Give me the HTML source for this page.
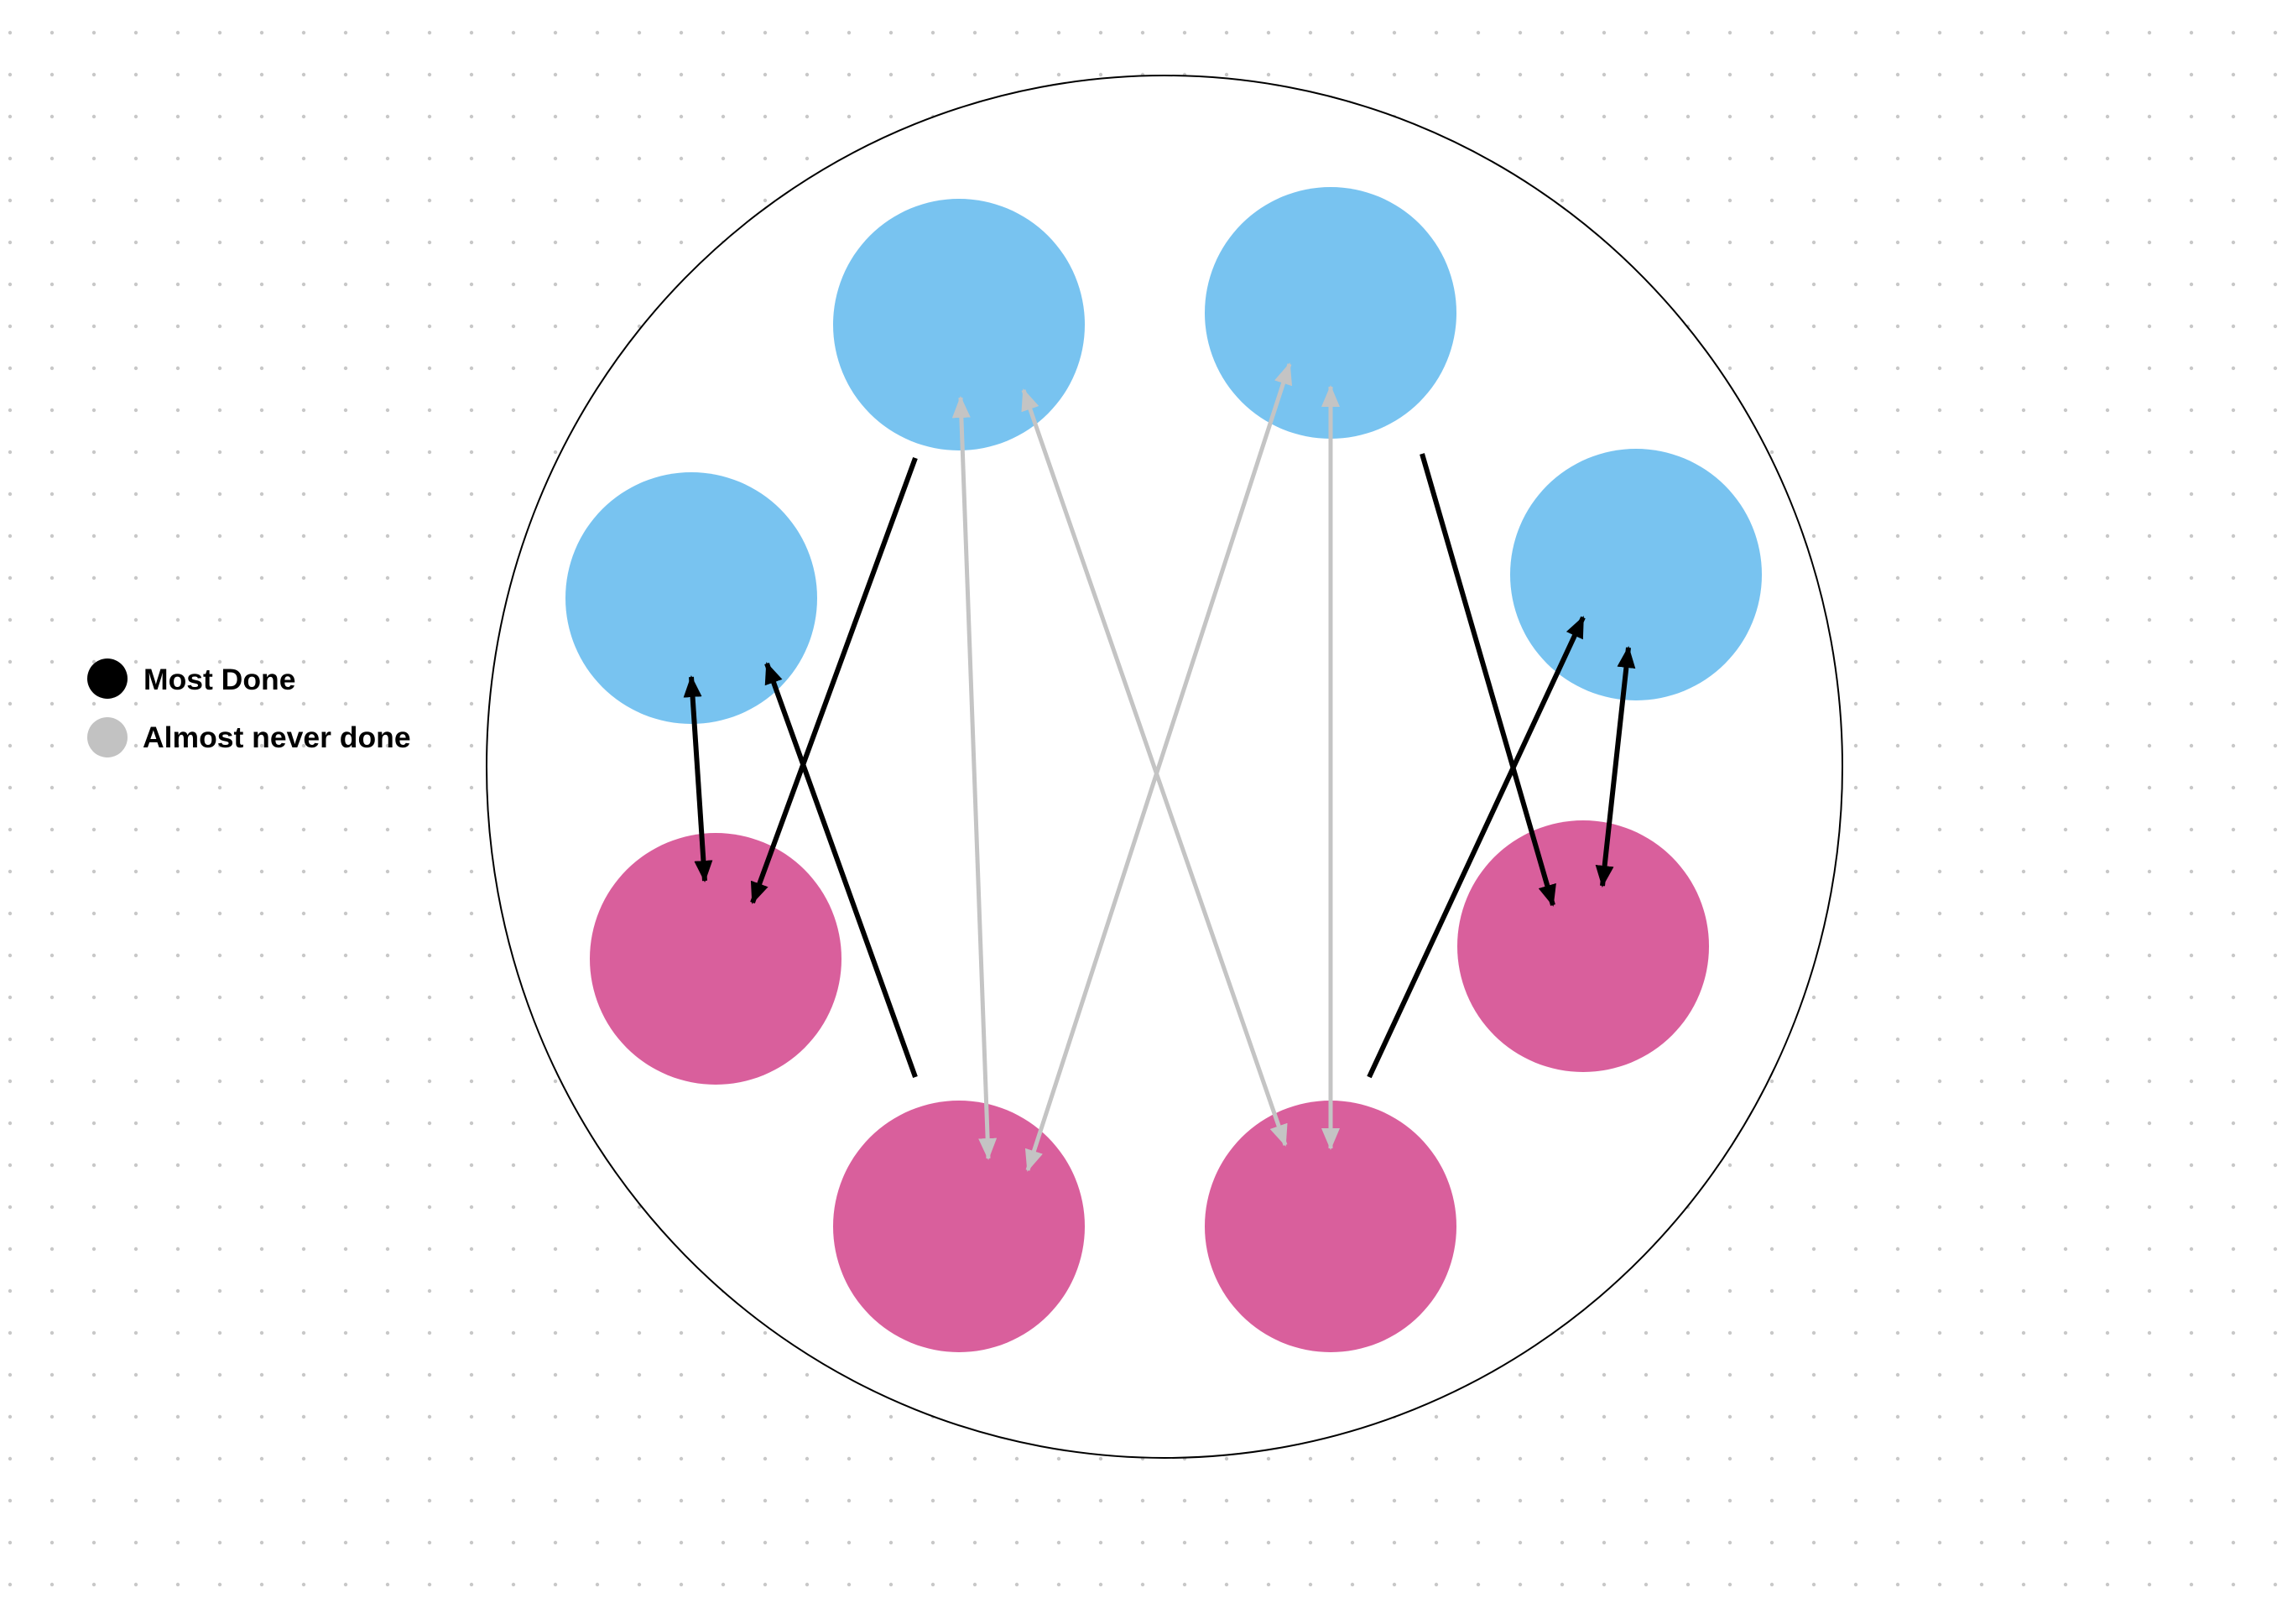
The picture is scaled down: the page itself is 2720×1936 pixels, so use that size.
<!DOCTYPE html>
<html><head><meta charset="utf-8"><style>
html,body{margin:0;padding:0;background:#fff;}
svg{display:block;}
</style></head><body>
<svg width="2720" height="1936" viewBox="0 0 2720 1936" xmlns="http://www.w3.org/2000/svg">
<defs>
<pattern id="dots" x="12" y="39" width="50" height="50" patternUnits="userSpaceOnUse">
<circle cx="0" cy="0" r="2.2" fill="#c8c8c8"/>
<circle cx="50" cy="0" r="2.2" fill="#c8c8c8"/>
<circle cx="0" cy="50" r="2.2" fill="#c8c8c8"/>
<circle cx="50" cy="50" r="2.2" fill="#c8c8c8"/>
</pattern>
<marker id="ab" markerWidth="26" markerHeight="22" refX="24" refY="11" orient="auto-start-reverse" markerUnits="userSpaceOnUse">
<path d="M0,0 L26,11 L0,22 z" fill="#000"/>
</marker>
<marker id="ag" markerWidth="26" markerHeight="22" refX="24" refY="11" orient="auto-start-reverse" markerUnits="userSpaceOnUse">
<path d="M0,0 L26,11 L0,22 z" fill="#c4c4c4"/>
</marker>
</defs>
<rect width="2720" height="1936" fill="url(#dots)"/>
<ellipse cx="1388" cy="914" rx="808" ry="824" fill="#fff" stroke="#000" stroke-width="2"/>
<g fill="#78C3F0">
<circle cx="1143" cy="387" r="150"/>
<circle cx="1586" cy="373" r="150"/>
<circle cx="824" cy="713" r="150"/>
<circle cx="1950" cy="685" r="150"/>
</g>
<g fill="#D95F9C">
<circle cx="853" cy="1143" r="150"/>
<circle cx="1887" cy="1128" r="150"/>
<circle cx="1143" cy="1462" r="150"/>
<circle cx="1586" cy="1462" r="150"/>
</g>
<g stroke="#c4c4c4" stroke-width="5" fill="none">
<line x1="1145" y1="474" x2="1178" y2="1381" marker-start="url(#ag)" marker-end="url(#ag)"/>
<line x1="1220" y1="465" x2="1532" y2="1365" marker-start="url(#ag)" marker-end="url(#ag)"/>
<line x1="1537" y1="434" x2="1225" y2="1395" marker-start="url(#ag)" marker-end="url(#ag)"/>
<line x1="1586" y1="461" x2="1586" y2="1369" marker-start="url(#ag)" marker-end="url(#ag)"/>
</g>
<g stroke="#000" stroke-width="6" fill="none">
<line x1="824" y1="807" x2="840" y2="1050" marker-start="url(#ab)" marker-end="url(#ab)"/>
<line x1="1091" y1="546" x2="897" y2="1076" marker-end="url(#ab)"/>
<line x1="1091" y1="1284" x2="914" y2="791" marker-end="url(#ab)"/>
<line x1="1695" y1="541" x2="1851" y2="1079" marker-end="url(#ab)"/>
<line x1="1632" y1="1284" x2="1887" y2="736" marker-end="url(#ab)"/>
<line x1="1941" y1="772" x2="1910" y2="1056" marker-start="url(#ab)" marker-end="url(#ab)"/>
</g>
<circle cx="128" cy="809" r="24" fill="#000"/>
<circle cx="128" cy="879" r="24" fill="#c2c2c2"/>
<text x="171" y="822" font-family="Liberation Sans, sans-serif" font-weight="bold" font-size="35.5" fill="#000">Most Done</text>
<text x="170" y="891" font-family="Liberation Sans, sans-serif" font-weight="bold" font-size="35.5" fill="#000">Almost never done</text>
</svg>
</body></html>
